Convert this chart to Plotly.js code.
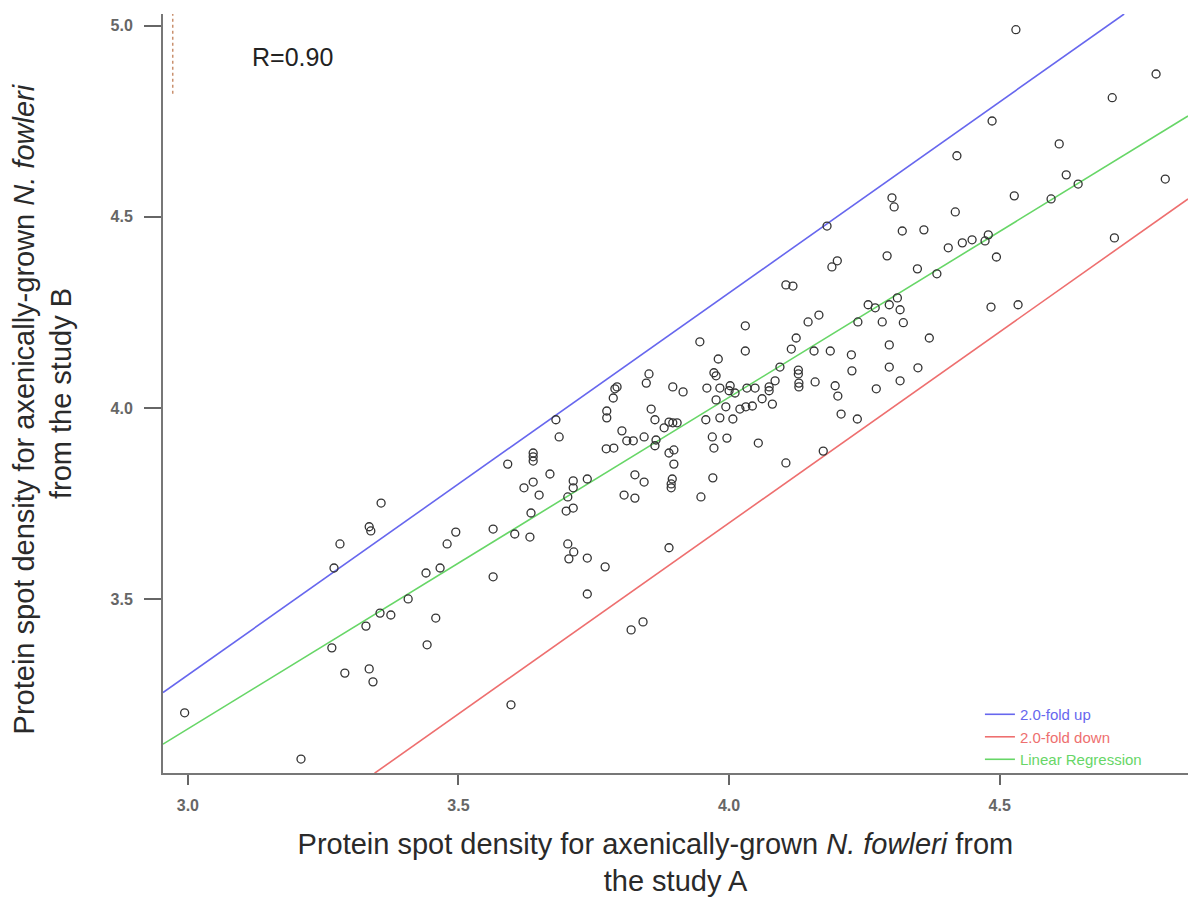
<!DOCTYPE html>
<html>
<head>
<meta charset="utf-8">
<script src="https://cdn.plot.ly/plotly-3.0.1.min.js"></script>
<style>
  html, body { margin: 0; padding: 0; background: #ffffff; }
  #chart { width: 1191px; height: 899px; }
</style>
</head>
<body>
<div id="chart"></div>
<script>
// Protein spot densities (study A on x, study B on y)
const studyA = [
  2.994, 3.209, 3.281, 3.270, 3.335, 3.338, 3.357, 3.266, 3.290, 3.335,
  3.342, 3.329, 3.355, 3.375, 3.407, 3.442, 3.458, 3.440, 3.466, 3.479,
  3.495, 3.564, 3.564, 3.604, 3.632, 3.634, 3.649, 3.621, 3.638, 3.591,
  3.638, 3.638, 3.638, 3.669, 3.597,
  3.680, 3.686, 3.712, 3.712, 3.738, 3.702, 3.699, 3.712, 3.774, 3.774,
  3.793, 3.789, 3.786, 3.802, 3.811, 3.823, 3.773, 3.787, 3.843, 3.852,
  3.847, 3.856, 3.863, 3.880, 3.889, 3.896, 3.904, 3.865, 3.863, 3.898,
  3.889, 3.898, 3.826, 3.843, 3.895, 3.893, 3.893, 3.806, 3.826, 3.896,
  3.915, 3.946, 3.948, 3.702, 3.713, 3.704, 3.738, 3.771, 3.738, 3.889,
  3.819, 3.841,
  4.030, 4.146, 4.238, 4.283, 4.322, 4.124, 4.115, 4.030, 4.157, 4.187,
  4.226, 4.296, 3.980, 3.972, 3.976, 4.094, 4.128, 4.128, 4.129, 4.129,
  4.085, 4.159, 4.227, 4.296, 4.316, 3.959, 3.983, 4.002, 4.000, 4.011,
  4.033, 4.048, 4.074, 4.074, 4.196, 4.201, 4.272, 3.976, 3.994, 4.020,
  4.031, 4.043, 4.061, 4.080, 3.957, 3.983, 4.007, 4.207, 4.237, 3.969,
  3.996, 3.972, 4.054, 4.174, 4.105, 3.970, 4.349, 4.370,
  4.530, 4.789, 4.708, 4.486, 4.610, 4.421, 4.623, 4.645, 4.806, 4.527,
  4.595, 4.301, 4.305, 4.418, 4.181, 4.320, 4.360, 4.712, 4.405, 4.431,
  4.449, 4.479, 4.473, 4.494, 4.292, 4.200, 4.190, 4.348, 4.384, 4.105,
  4.118, 4.257, 4.270, 4.296, 4.311, 4.316, 4.484, 4.534, 4.166
];
const studyB = [
  3.202, 3.081, 3.644, 3.581, 3.689, 3.678, 3.751, 3.372, 3.306, 3.317,
  3.283, 3.429, 3.463, 3.458, 3.500, 3.380, 3.450, 3.568, 3.581, 3.644,
  3.675, 3.683, 3.558, 3.670, 3.662, 3.725, 3.772, 3.791, 3.806, 3.853,
  3.882, 3.872, 3.861, 3.827, 3.223,
  3.969, 3.924, 3.809, 3.791, 3.814, 3.767, 3.730, 3.738, 3.992, 3.974,
  4.055, 4.050, 4.026, 3.940, 3.914, 3.914, 3.893, 3.895, 3.924, 4.089,
  4.065, 3.997, 3.969, 3.948, 3.963, 3.961, 3.961, 3.916, 3.901, 3.890,
  3.882, 3.853, 3.825, 3.806, 3.814, 3.801, 3.791, 3.772, 3.764, 4.055,
  4.042, 4.173, 3.767, 3.644, 3.623, 3.605, 3.607, 3.584, 3.513, 3.634,
  3.419, 3.440,
  4.215, 4.225, 4.225, 4.225, 4.223, 4.183, 4.154, 4.149, 4.149, 4.149,
  4.139, 4.165, 4.128, 4.092, 4.084, 4.107, 4.099, 4.089, 4.065, 4.055,
  4.071, 4.068, 4.097, 4.107, 4.071, 4.052, 4.052, 4.058, 4.045, 4.039,
  4.052, 4.052, 4.055, 4.045, 4.058, 4.031, 4.050, 4.021, 4.003, 3.997,
  4.003, 4.005, 4.024, 4.010, 3.969, 3.974, 3.971, 3.984, 3.971, 3.924,
  3.921, 3.895, 3.908, 3.887, 3.856, 3.817, 4.105, 4.183,
  4.990, 4.874, 4.812, 4.751, 4.691, 4.660, 4.610, 4.586, 4.599, 4.555,
  4.547, 4.550, 4.526, 4.513, 4.476, 4.463, 4.466, 4.445, 4.419, 4.432,
  4.440, 4.453, 4.437, 4.395, 4.398, 4.385, 4.369, 4.364, 4.351, 4.322,
  4.319, 4.270, 4.262, 4.270, 4.288, 4.257, 4.264, 4.270, 4.243
];

// Reference lines (end points)
const foldUpX = [2.954, 4.730];
const foldUpY = [3.255, 5.031];
const foldDownX = [3.345, 4.848];
const foldDownY = [3.044, 4.547];
const regressionX = [2.954, 4.848];
const regressionY = [3.120, 4.764];

const seriesNames = ['2.0-fold up', '2.0-fold down', 'Linear Regression'];
const xTicks = [3.0, 3.5, 4.0, 4.5];
const yTicks = [3.5, 4.0, 4.5, 5.0];
const rLabel = 'R=0.90';

const cBlue = '#6767ee', cRed = '#ee6f6f', cGreen = '#67d667';

const traces = [
  { x: foldUpX, y: foldUpY, mode: 'lines', type: 'scatter',
    line: { color: cBlue, width: 1.6 },
    name: '<span style="color:' + cBlue + '">' + seriesNames[0] + '</span>' },
  { x: foldDownX, y: foldDownY, mode: 'lines', type: 'scatter',
    line: { color: cRed, width: 1.6 },
    name: '<span style="color:' + cRed + '">' + seriesNames[1] + '</span>' },
  { x: regressionX, y: regressionY, mode: 'lines', type: 'scatter',
    line: { color: cGreen, width: 1.6 },
    name: '<span style="color:' + cGreen + '">' + seriesNames[2] + '</span>' },
  { x: studyA, y: studyB, mode: 'markers', type: 'scatter', showlegend: false,
    marker: { symbol: 'circle-open', size: 8, color: '#333333', line: { width: 1.3, color: '#333333' } } }
];

const nb = '\u00a0';
const layout = {
  width: 1191, height: 899,
  paper_bgcolor: '#ffffff', plot_bgcolor: '#ffffff',
  margin: { l: 163, r: 3, t: 14, b: 126, pad: 0 },
  font: { family: 'Liberation Sans, Arial, sans-serif', color: '#333' },
  showlegend: true,
  legend: {
    x: 0.797, xanchor: 'left', y: -0.004, yanchor: 'bottom',
    bgcolor: 'rgba(0,0,0,0)', borderwidth: 0,
    font: { size: 15, family: 'Liberation Sans, Arial, sans-serif' },
    itemwidth: 30, tracegroupgap: 0
  },
  xaxis: {
    range: [2.954, 4.848], tickvals: xTicks, ticktext: xTicks.map(v => v.toFixed(1)),
    showgrid: false, zeroline: false, showline: true, linecolor: '#777', linewidth: 2,
    ticks: 'outside', ticklen: 10, tickwidth: 2, tickcolor: '#666',
    ticklabelstandoff: 7,
    tickfont: { size: 16, color: '#666', family: 'Liberation Sans, Arial, sans-serif', weight: 'bold' },
    title: { text: 'Protein spot density for axenically-grown <i>N. fowleri</i> from' + nb.repeat(5) + '<br>the study A' + nb.repeat(5),
             font: { size: 29, color: '#2a2a2a', family: 'Liberation Sans, Arial, sans-serif' }, standoff: 20 }
  },
  yaxis: {
    range: [3.0445, 5.031], tickvals: yTicks, ticktext: yTicks.map(v => v.toFixed(1)),
    showgrid: false, zeroline: false, showline: true, linecolor: '#777', linewidth: 2,
    ticks: 'outside', ticklen: 17, tickwidth: 2, tickcolor: '#666',
    ticklabelstandoff: 8,
    tickfont: { size: 16, color: '#666', family: 'Liberation Sans, Arial, sans-serif', weight: 'bold' },
    title: { text: 'Protein spot density for axenically-grown <i>N. fowleri</i>' + nb.repeat(4) + '<br>from the study B',
             font: { size: 29, color: '#2a2a2a', family: 'Liberation Sans, Arial, sans-serif' }, standoff: 30 }
  },
  annotations: [
    { xref: 'paper', yref: 'paper', x: 0.085, y: 0.943, xanchor: 'left', yanchor: 'middle',
      text: rLabel, showarrow: false, font: { size: 25, color: '#222' } }
  ],
  shapes: [
    { type: 'line', xref: 'paper', yref: 'paper', x0: 0.0095, x1: 0.0095, y0: 0.895, y1: 1.0,
      line: { color: '#c9906e', width: 1.5, dash: 'dot' } }
  ]
};

Plotly.newPlot('chart', traces, layout, { displayModeBar: false, staticPlot: true });
</script>
</body>
</html>
